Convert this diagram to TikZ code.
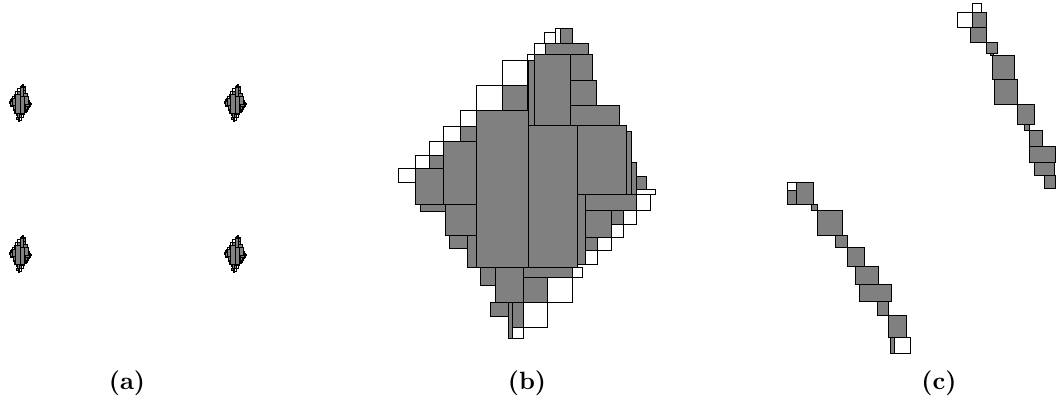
\documentclass[tikz,border=0pt]{standalone}
\usepackage{tikz}

% block of cells around (527,183)
\newcommand{\cellblock}{%
    % filled cells
    \foreach \xa/\ya/\xb/\yb in {476.7/110.7/528.3/267.3, 528.3/125.3/577.3/267.3,
        577.3/125.3/626.7/194.3, 528.3/60/534/125.3, 534/54/570.7/125.3,
        570.7/54/592.7/80, 570.7/80/596.7/105, 570.7/105/619.3/125.3,
        545/43.3/588.3/54, 560/28.3/572.7/43.3, 502.7/85/527.7/110.7,
        460.3/126.7/476.7/141.7, 443.3/141.7/476.7/204.3, 429.3/155/443.3/168.3,
        415.7/168.3/443.3/204.3, 420/204.3/445/211, 445/204.3/476.7/235.7,
        449.3/235.7/467.3/248.3, 467.3/235.7/476.7/267.3, 480.7/267.3/495/285,
        495/267.3/523.3/302.7, 523.3/267.3/572.7/277.3, 523.3/277.3/547.7/302.7,
        490.7/302.7/508.3/316.7, 508.3/302.7/512.7/338.3, 512.7/302.7/523.3/327.3,
        577.3/194.3/585.7/264, 585.7/194.3/636.7/210, 585.7/210/611/237.3,
        611/210/623.3/224, 585.7/237.3/597.7/250, 626.7/131/631.7/194.3,
        631.7/162.7/636.7/194.3, 636.7/176/646.7/189.3}
        \draw[fullcell] (\xa,\ya) rectangle (\xb,\yb);
    % empty cells
    \foreach \xa/\ya/\xb/\yb in {555.7/28.3/560/43.3, 544.3/32.7/555.7/43.3,
        534/43.3/545/54, 527.7/54/534/60, 502.7/60/527.7/85, 476.7/85/502.7/110.7,
        460.3/110.7/476.7/126.7, 443.3/126.7/460.3/141.7, 429.3/141.7/443.3/155,
        415.7/155/429.3/168.3, 398.3/168.3/415.7/182.7, 547.7/277.3/572.7/302.7,
        572.7/267.3/582.7/277.3, 523.3/302.7/547.7/327.3, 512.7/327.3/523.3/338.3,
        623.3/210/636.7/224, 611/224/623.3/237.3, 597.7/237.3/611/250,
        585.7/250/597.7/264, 636.7/194.3/650/210, 636.7/189.3/655.7/194.3}
        \draw[emptycell] (\xa,\ya) rectangle (\xb,\yb);
}

\begin{document}
\begin{tikzpicture}[x=0.4pt, y=-0.4pt,
    fullcell/.style={draw=black, fill=gray, line width=0.35pt},
    emptycell/.style={draw=black, fill=white, line width=0.35pt},
    tinycell/.style={xscale=0.085, yscale=0.12, shift={(-527,-183)}}]
    \useasboundingbox (0,0) rectangle (1056,407);

    % (a) four small copies
    \foreach \cx/\cy in {20/103, 235/103, 20/254, 235/254} {
        \begin{scope}[shift={(\cx,\cy)}, tinycell]
            \cellblock
        \end{scope}
    }

    % (b) one copy
    \cellblock

    % (c) two chains
    \foreach \xa/\ya/\xb/\yb in {787.3/190.7/796/204, 796/182.3/813.3/204,
        811/204/817.7/210.7, 817.7/210.7/842.7/235, 835.3/235/847.3/247.3,
        847.3/247.3/864.3/266.7, 855.7/266.7/878.3/284.3, 859/284.3/891.3/301.7,
        877.3/301.7/888.3/315.7, 888.3/315.7/906/337.3, 890/337.3/894.3/353.3,
        972.3/12.3/986/27.3, 970.3/27.3/986/42.3, 986/42.3/997.3/53.3,
        990/53.3/993.3/55.7, 992.7/55/1014.7/79, 994.3/79/1017.3/104,
        1017.3/104/1034.7/124.3, 1024/124.3/1029.3/130.3, 1029.3/130.3/1042.7/146,
        1029.3/146/1055.3/162.3, 1034.3/162.3/1054.3/175, 1044/175/1055/188.3}
        \draw[fullcell] (\xa,\ya) rectangle (\xb,\yb);
    \foreach \xa/\ya/\xb/\yb in {787.3/182.3/796/190.7, 894.3/337.3/910.7/353.3,
        972.3/3.3/981.3/12.3, 957.3/12.3/972.3/27.3}
        \draw[emptycell] (\xa,\ya) rectangle (\xb,\yb);

    % captions
    \node[font=\bfseries] (capa) at (127,383) {(a)};
    \node[font=\bfseries] (capb) at (527,383) {(b)};
    \node[font=\bfseries] (capc) at (939,383) {(c)};
\end{tikzpicture}
\end{document}
